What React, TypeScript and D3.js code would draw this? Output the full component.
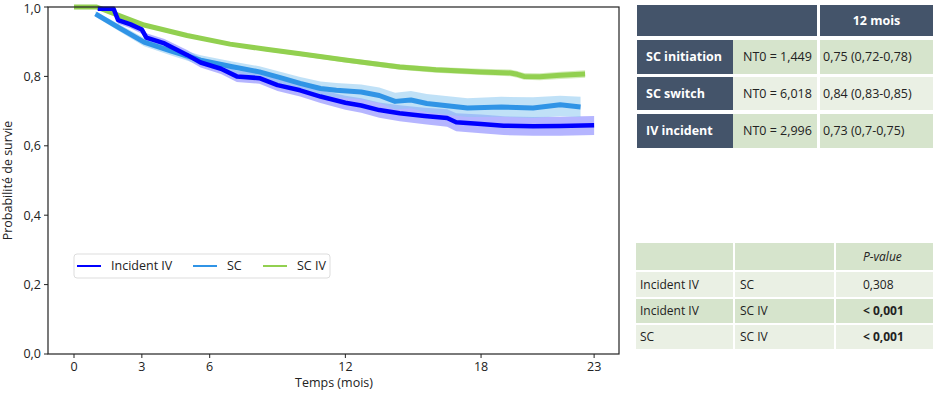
import * as d3 from "d3";

// Kaplan-Meier estimates (time in months, survival probability)
const incidentT = [1.05, 1.75, 1.95, 2.5, 3.0, 3.2, 4.0, 5.0, 5.6, 6.5, 7.2, 8.2, 9.0, 10.0, 10.9, 12.0, 12.7, 13.5, 14.4, 15.5, 16.5, 16.9, 18.0, 19.0, 20.3, 21.5, 23.0];
const incidentS = [0.995, 0.995, 0.962, 0.95, 0.935, 0.912, 0.895, 0.862, 0.84, 0.822, 0.8, 0.795, 0.775, 0.76, 0.742, 0.724, 0.716, 0.703, 0.694, 0.686, 0.68, 0.668, 0.663, 0.658, 0.656, 0.657, 0.659];
const incidentLo = [0.99, 0.988, 0.952, 0.939, 0.923, 0.9, 0.882, 0.848, 0.826, 0.807, 0.784, 0.779, 0.758, 0.742, 0.723, 0.704, 0.695, 0.681, 0.671, 0.662, 0.655, 0.642, 0.636, 0.631, 0.629, 0.629, 0.631];
const incidentHi = [1.0, 1.0, 0.972, 0.961, 0.947, 0.924, 0.908, 0.876, 0.854, 0.837, 0.816, 0.811, 0.792, 0.778, 0.761, 0.744, 0.737, 0.725, 0.717, 0.71, 0.705, 0.694, 0.69, 0.685, 0.683, 0.684, 0.686];

const scT = [0.95, 2.0, 3.1, 4.3, 5.6, 7.0, 8.2, 9.2, 10.0, 10.9, 11.6, 12.7, 13.5, 14.2, 14.9, 15.6, 17.4, 18.9, 20.3, 21.5, 22.4];
const scS = [0.98, 0.94, 0.899, 0.873, 0.847, 0.828, 0.813, 0.795, 0.78, 0.765, 0.76, 0.755, 0.745, 0.728, 0.732, 0.722, 0.709, 0.712, 0.709, 0.718, 0.712];
const scLo = [0.972, 0.93, 0.887, 0.86, 0.833, 0.813, 0.797, 0.778, 0.762, 0.746, 0.74, 0.734, 0.723, 0.705, 0.708, 0.697, 0.683, 0.684, 0.68, 0.685, 0.683];
const scHi = [0.988, 0.95, 0.911, 0.886, 0.861, 0.843, 0.829, 0.812, 0.798, 0.785, 0.781, 0.777, 0.768, 0.753, 0.758, 0.749, 0.737, 0.741, 0.74, 0.744, 0.741];

const scivT = [0.0, 1.0, 2.0, 3.1, 5.0, 6.9, 8.5, 10.0, 12.0, 14.4, 16.0, 18.0, 19.3, 19.6, 19.9, 20.6, 21.5, 22.6];
const scivS = [1.0, 1.0, 0.975, 0.948, 0.918, 0.893, 0.878, 0.865, 0.847, 0.827, 0.819, 0.813, 0.81, 0.806, 0.8, 0.799, 0.803, 0.807];
const scivLo = scivS.map((s, i) => s - 0.002 - 0.0004 * scivT[i]);
const scivHi = scivS.map((s, i) => Math.min(1, s + 0.002 + 0.0004 * scivT[i]));

const xTicks = [0, 3, 6, 12, 18, 23];
const yTicks = [0, 0.2, 0.4, 0.6, 0.8, 1.0];

const legendNames = ["Incident IV", "SC", "SC IV"];
const lineColors = ["#0000ff", "#3094e6", "#92d050"];
const bandColors = ["rgba(90,90,255,0.45)", "rgba(140,200,240,0.55)", "rgba(146,208,80,0.4)"];

// survival table
const survHeader = "12 mois";
const survGroups = ["SC initiation", "SC switch", "IV incident"];
const survN = ["NT0 = 1,449", "NT0 = 6,018", "NT0 = 2,996"];
const surv12 = ["0,75 (0,72-0,78)", "0,84 (0,83-0,85)", "0,73 (0,7-0,75)"];

// p-value table
const pHeader = "P-value";
const pGroupA = ["Incident IV", "Incident IV", "SC"];
const pGroupB = ["SC", "SC IV", "SC IV"];
const pValues = ["0,308", "< 0,001", "< 0,001"];
const pBold = [false, true, true];

const FONT = "'Open Sans', 'Noto Sans', sans-serif";
const DARK = "#44546a";
const GREEN1 = "#d6e4cc";
const GREEN2 = "#eaf0e4";

export default function App() {
  const plot = { left: 48, right: 619, top: 7, bottom: 354 };
  const x = d3.scaleLinear().domain([-1.15, 24.1]).range([plot.left, plot.right]);
  const y = d3.scaleLinear().domain([0, 1]).range([plot.bottom, plot.top]);

  const series = [
    { t: incidentT, s: incidentS, lo: incidentLo, hi: incidentHi, w: 4.5 },
    { t: scT, s: scS, lo: scLo, hi: scHi, w: 5 },
    { t: scivT, s: scivS, lo: scivLo, hi: scivHi, w: 5 },
  ];

  const line = d3
    .line<[number, number]>()
    .x((d) => x(d[0]))
    .y((d) => y(d[1]));
  const area = d3
    .area<[number, number, number]>()
    .x((d) => x(d[0]))
    .y0((d) => y(d[1]))
    .y1((d) => y(d[2]));

  // table layout
  const tCol = [637, 733, 820, 933];
  const tRowY = [40, 77, 114];
  const tRowH = [34, 33, 34];
  const tRowFill = [GREEN1, GREEN2, GREEN1];

  const pCol = [636, 735, 836, 933];
  const pRowY = [272, 299, 325];
  const pRowH = [25, 24, 24];
  const pRowFill = [GREEN2, GREEN1, GREEN2];

  return (
    <svg
      width={933}
      height={393}
      style={{ position: "absolute", left: 0, top: 0, background: "#fff" }}
      fontFamily={FONT}
    >
      {/* confidence bands */}
      {series.map((sr, i) => (
        <path
          key={"band" + i}
          d={area(sr.t.map((t, j) => [t, sr.lo[j], sr.hi[j]] as [number, number, number])) || ""}
          fill={bandColors[i]}
          stroke="none"
        />
      ))}
      {/* survival curves, SC IV drawn below the others */}
      {[2, 1, 0].map((i) => (
        <path
          key={"line" + i}
          d={line(series[i].t.map((t, j) => [t, series[i].s[j]] as [number, number])) || ""}
          fill="none"
          stroke={lineColors[i]}
          strokeWidth={series[i].w}
          strokeLinejoin="round"
        />
      ))}

      {/* frame */}
      <rect
        x={plot.left}
        y={plot.top}
        width={plot.right - plot.left}
        height={plot.bottom - plot.top}
        fill="none"
        stroke="#222"
        strokeWidth={1.2}
      />

      {/* y axis */}
      {yTicks.map((v) => (
        <g key={"y" + v} transform={`translate(${plot.left},${y(v)})`}>
          <line x1={-4} x2={0} stroke="#222" />
          <text x={-7} dy={v === 1 ? "0.45em" : "0.35em"} textAnchor="end" fontSize={12.5} fill="#222">
            {v.toFixed(1).replace(".", ",")}
          </text>
        </g>
      ))}
      <text
        transform={`translate(12,${(plot.top + plot.bottom) / 2}) rotate(-90)`}
        textAnchor="middle"
        fontSize={12.5}
        fill="#222"
      >
        Probabilité de survie
      </text>

      {/* x axis */}
      {xTicks.map((v) => (
        <g key={"x" + v} transform={`translate(${x(v)},${plot.bottom})`}>
          <line y1={0} y2={4} stroke="#222" />
          <text y={17} textAnchor="middle" fontSize={12.5} fill="#222">
            {v}
          </text>
        </g>
      ))}
      <text x={334} y={387} textAnchor="middle" fontSize={12.5} fill="#222">
        Temps (mois)
      </text>

      {/* legend */}
      <rect x={74} y={254} width={256} height={24} rx={3} fill="#fff" stroke="#ddd" />
      {legendNames.map((name, i) => {
        const lx = [77, 193, 263][i];
        return (
          <g key={name} transform={`translate(${lx},266)`}>
            <line x1={0} x2={24} stroke={lineColors[i]} strokeWidth={2} />
            <text x={34} dy="0.35em" fontSize={12.5} fill="#222">
              {name}
            </text>
          </g>
        );
      })}

      {/* survival table */}
      <rect x={tCol[0]} y={5} width={tCol[2] - 3 - tCol[0]} height={31} fill={DARK} />
      <rect x={tCol[2]} y={5} width={tCol[3] - tCol[2]} height={31} fill={DARK} />
      <text x={(tCol[2] + tCol[3]) / 2} y={21} dy="0.35em" textAnchor="middle" fontSize={12.5} fontWeight="bold" fill="#fff">
        {survHeader}
      </text>
      {survGroups.map((g, i) => (
        <g key={g}>
          <rect x={tCol[0]} y={tRowY[i]} width={tCol[1] - tCol[0]} height={tRowH[i]} fill={DARK} />
          <rect x={tCol[1]} y={tRowY[i]} width={tCol[2] - 3 - tCol[1]} height={tRowH[i]} fill={tRowFill[i]} />
          <rect x={tCol[2]} y={tRowY[i]} width={tCol[3] - tCol[2]} height={tRowH[i]} fill={tRowFill[i]} />
          <text x={646} y={tRowY[i] + tRowH[i] / 2} dy="0.35em" fontSize={12.5} fontWeight="bold" fill="#fff">
            {g}
          </text>
          <text x={743} y={tRowY[i] + tRowH[i] / 2} dy="0.35em" fontSize={12.5} fill="#222">
            {survN[i]}
          </text>
          <text x={823} y={tRowY[i] + tRowH[i] / 2} dy="0.35em" fontSize={12.5} fill="#222">
            {surv12[i]}
          </text>
        </g>
      ))}

      {/* p-value table */}
      <rect x={pCol[0]} y={243} width={pCol[3] - pCol[0]} height={27} fill={GREEN1} />
      <text x={863} y={257} dy="0.35em" fontSize={12} fontStyle="italic" fill="#222">
        {pHeader}
      </text>
      {pGroupA.map((a, i) => (
        <g key={"p" + i}>
          <rect x={pCol[0]} y={pRowY[i]} width={pCol[3] - pCol[0]} height={pRowH[i]} fill={pRowFill[i]} />
          <text x={640} y={pRowY[i] + pRowH[i] / 2} dy="0.35em" fontSize={12} fill="#222">
            {a}
          </text>
          <text x={740} y={pRowY[i] + pRowH[i] / 2} dy="0.35em" fontSize={12} fill="#222">
            {pGroupB[i]}
          </text>
          <text x={863} y={pRowY[i] + pRowH[i] / 2} dy="0.35em" fontSize={12} fontWeight={pBold[i] ? "bold" : "normal"} fill="#222">
            {pValues[i]}
          </text>
        </g>
      ))}
      {/* white column separators */}
      {[pCol[1] - 1, pCol[2] - 1].map((cx) => (
        <line key={"sep" + cx} x1={cx} x2={cx} y1={243} y2={349} stroke="#fff" strokeWidth={2} />
      ))}
    </svg>
  );
}
